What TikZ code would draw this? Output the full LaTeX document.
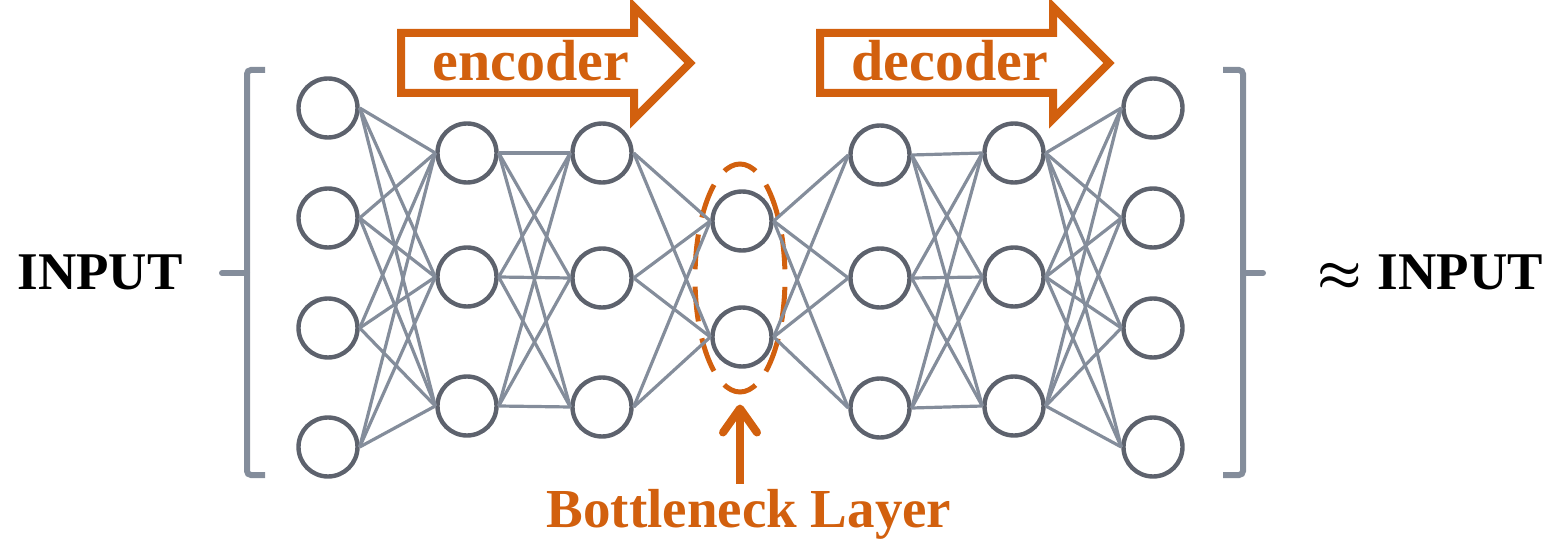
\documentclass[tikz,border=0pt]{standalone}
\usepackage{bm}
\usepackage{fontspec}
\setmainfont{Liberation Serif}
\usetikzlibrary{arrows.meta, positioning, shapes.geometric, shapes.arrows}

\definecolor{burnt}{HTML}{D2600E}
\definecolor{wire}{HTML}{848D9B}
\definecolor{rim}{HTML}{5D626D}

\begin{document}
\begin{tikzpicture} [
    x=0.5pt, y=-0.5pt,
    neuron/.style={draw=rim, fill=white, shape=circle, line width=2.2pt, minimum size=29.5pt, inner sep=0pt},
    every edge/.style={draw=wire, line width=1.6pt},
    bracket/.style={draw=wire, line width=3pt, rounded corners=2pt},
    tick/.style={draw=wire, line width=3pt, line cap=round},
    stage/.style={shape=single arrow, draw=burnt, line width=4pt, text=burnt,
      font=\fontsize{29}{30}\selectfont\bfseries, single arrow head extend=13pt,
      minimum height=144.5pt, inner xsep=4pt, inner ysep=4pt,
      text height=18pt, text depth=0pt, anchor=tail},
    ring/.style={draw=burnt, shape=ellipse, line width=2.5pt, minimum width=45pt,
      minimum height=114pt, inner sep=0pt, dash pattern=on 17.5pt off 8.65pt, dash phase=21.8pt},
    pointer/.style={draw=burnt, line width=4pt, -{Straight Barb[length=12pt, width=17pt, round]}},
    caption/.style={anchor=base, font=\fontsize{26.5}{30}\selectfont\bfseries}
  ]
  \useasboundingbox (0,0) rectangle (1560,540);

  % Bottleneck highlight (behind everything)
  \node[ring] (BNECK) at (740,278) {};

  % Nodes and Positions
  % INPUT LAYER
  \node[neuron] (IN1) at (328,108) {};
  \node[neuron] (IN2) at (328,218) {};
  \node[neuron] (IN3) at (328,328) {};
  \node[neuron] (IN4) at (328,447) {};

  % ENCODER
  \node[neuron] (ENCA1) at (467,153) {};
  \node[neuron] (ENCA2) at (467,277) {};
  \node[neuron] (ENCA3) at (467,406) {};
  \node[neuron] (ENCB1) at (602,153) {};
  \node[neuron] (ENCB2) at (602,278) {};
  \node[neuron] (ENCB3) at (602,407) {};

  % CODE
  \node[neuron] (CODE1) at (742,221) {};
  \node[neuron] (CODE2) at (742,337) {};

  % DECODER
  \node[neuron] (DECA1) at (880,155) {};
  \node[neuron] (DECA2) at (880,278) {};
  \node[neuron] (DECA3) at (880,408) {};
  \node[neuron] (DECB1) at (1014,153) {};
  \node[neuron] (DECB2) at (1014,277) {};
  \node[neuron] (DECB3) at (1014,406) {};

  % OUTPUT LAYER
  \node[neuron] (OUT1) at (1153,108) {};
  \node[neuron] (OUT2) at (1153,218) {};
  \node[neuron] (OUT3) at (1153,328) {};
  \node[neuron] (OUT4) at (1153,447) {};

  % Edges
  \path (IN1.east) edge (ENCA1.west) edge (ENCA2.west) edge (ENCA3.west);
  \path (IN2.east) edge (ENCA1.west) edge (ENCA2.west) edge (ENCA3.west);
  \path (IN3.east) edge (ENCA1.west) edge (ENCA2.west) edge (ENCA3.west);
  \path (IN4.east) edge (ENCA1.west) edge (ENCA2.west) edge (ENCA3.west);

  \path (ENCA1.east) edge (ENCB1.west) edge (ENCB2.west) edge (ENCB3.west);
  \path (ENCA2.east) edge (ENCB1.west) edge (ENCB2.west) edge (ENCB3.west);
  \path (ENCA3.east) edge (ENCB1.west) edge (ENCB2.west) edge (ENCB3.west);

  \path (ENCB1.east) edge (CODE1.west) edge (CODE2.west);
  \path (ENCB2.east) edge (CODE1.west) edge (CODE2.west);
  \path (ENCB3.east) edge (CODE1.west) edge (CODE2.west);

  \path (CODE1.east) edge (DECA1.west) edge (DECA2.west) edge (DECA3.west);
  \path (CODE2.east) edge (DECA1.west) edge (DECA2.west) edge (DECA3.west);

  \path (DECA1.east) edge (DECB1.west) edge (DECB2.west) edge (DECB3.west);
  \path (DECA2.east) edge (DECB1.west) edge (DECB2.west) edge (DECB3.west);
  \path (DECA3.east) edge (DECB1.west) edge (DECB2.west) edge (DECB3.west);

  \path (DECB1.east) edge (OUT1.west) edge (OUT2.west) edge (OUT3.west) edge (OUT4.west);
  \path (DECB2.east) edge (OUT1.west) edge (OUT2.west) edge (OUT3.west) edge (OUT4.west);
  \path (DECB3.east) edge (OUT1.west) edge (OUT2.west) edge (OUT3.west) edge (OUT4.west);

  % Brackets
  \draw[bracket] (265,70) -| (247,475) -- (265,475);
  \draw[tick] (247,273) -- (222,273);
  \draw[bracket] (1223,70) -| (1243,475) -- (1223,475);
  \draw[tick] (1243,273) -- (1263,273);

  % Labels
  \node[caption] (INP) at (100,290) {INPUT};
  \node[caption] (OUTP) at (1430,290) {$\bm{\approx}$\hspace{8pt}INPUT};

  % Stage arrows
  \node[stage] (ENC) at (397,63) {encoder};
  \node[stage] (DEC) at (816,63) {decoder};

  % Bottleneck pointer
  \coordinate (TAIL) at (740,484);
  \draw[pointer, shorten >=5pt] (TAIL) -- (BNECK.south);
  \node[caption, text=burnt, font=\fontsize{27.5}{30}\selectfont\bfseries] (BLABEL) at (749,527) {Bottleneck Layer};

\end{tikzpicture}
\end{document}
